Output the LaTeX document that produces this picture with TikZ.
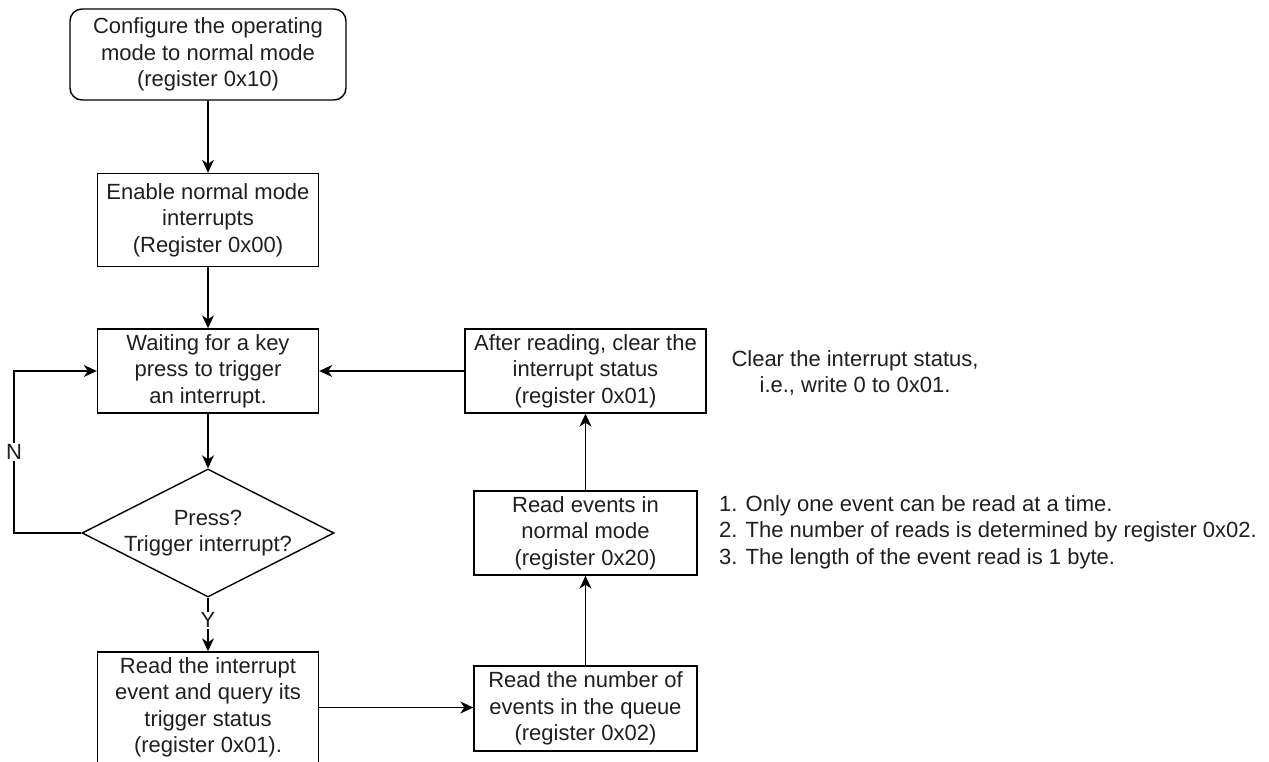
\documentclass[tikz,border=0pt]{standalone}
\usepackage{fontspec}
\setmainfont{Liberation Sans}
\usetikzlibrary{shapes.geometric,arrows.meta}
\tikzset{
  txt/.style={font=\fontsize{22}{26.5}\selectfont, text=black!88, align=center, inner sep=0pt},
  box/.style={txt, draw, line width=1.4pt, rectangle},
  startbox/.style={box, rounded corners=12pt},
  dec/.style={draw, line width=1.4pt, diamond, inner sep=0pt},
  arr/.style={line width=1.4pt, -{Stealth[length=13pt,width=12pt,inset=4pt]}},
  lab/.style={txt, fill=white, inner sep=1pt},
  note/.style={txt}
}
\begin{document}
\begin{tikzpicture}[x=1pt,y=-1pt]
\useasboundingbox (0,0) rectangle (1269,762);
\node[startbox, minimum width=276pt, minimum height=91pt] (b1) at (208,54.5) {Configure the operating\\mode to normal mode\\(register 0x10)};
\node[box, minimum width=221pt, minimum height=93pt] (b2) at (208,220) {Enable normal mode\\interrupts\\(Register 0x00)};
\node[box, minimum width=221pt, minimum height=84pt] (b3) at (208,371) {Waiting for a key\\press to trigger\\an interrupt.};
\node[dec, minimum width=252pt, minimum height=128pt] (d) at (208,533) {};
\node[txt] (dt) at (d.center) {Press?\\Trigger interrupt?};
\node[box, minimum width=221pt, minimum height=111pt] (b4) at (208,707.5) {Read the interrupt\\event and query its\\trigger status\\(register 0x01).};
\node[box, minimum width=223pt, minimum height=85pt] (b5) at (585.5,708.5) {Read the number of\\events in the queue\\(register 0x02)};
\node[box, minimum width=223pt, minimum height=84pt] (b6) at (585.5,533) {Read events in\\normal mode\\(register 0x20)};
\node[box, minimum width=241pt, minimum height=84pt] (b7) at (585.5,371) {After reading, clear the\\interrupt status\\(register 0x01)};
\node[note] (n1) at (855,373) {Clear the interrupt status,\\i.e., write 0 to 0x01.};
\node[note, align=left, anchor=west] (n2) at (719,532) {1. Only one event can be read at a time.\\2. The number of reads is determined by register 0x02.\\3. The length of the event read is 1 byte.};
\coordinate (nl) at (14,533);
\coordinate (nu) at (14,371);
\draw[arr] (b1) -- (b2);
\draw[arr] (b2) -- (b3);
\draw[arr] (b3) -- (d);
\draw[arr] (d.south) -- (b4.north) node[lab, pos=0.42] {Y};
\draw[arr] (d.west) -- (nl) -- (nu) node[lab, midway] {N} -- (b3.west);
\draw[arr] (b4.east) -- (b4.east -| b5.west);
\draw[arr] (b5) -- (b6);
\draw[arr] (b6) -- (b7);
\draw[arr] (b7) -- (b3);
\end{tikzpicture}
\end{document}
